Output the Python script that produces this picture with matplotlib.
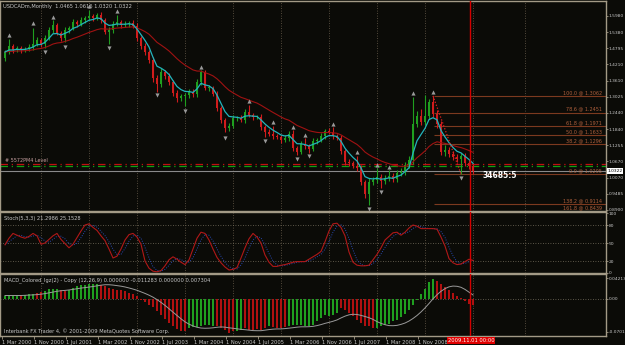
import matplotlib
matplotlib.use("Agg")
import matplotlib.pyplot as plt
import matplotlib.transforms as mtransforms
import numpy as np
import pandas as pd

# USDCADm, Monthly
first_open = 1.4443
closes = [1.4662, 1.4881, 1.4735, 1.4808, 1.4735, 1.4772, 1.4845, 1.4954, 1.5100, 1.4954,
          1.5173, 1.5465, 1.5648, 1.5356, 1.5173, 1.5465, 1.5538, 1.5757, 1.5684, 1.5830,
          1.5903, 1.5976, 1.5903, 1.6013, 1.5830, 1.5392, 1.5465, 1.5684, 1.5757, 1.5648,
          1.5684, 1.5721, 1.5611, 1.5173, 1.4881, 1.4662, 1.4370, 1.3713, 1.3494, 1.3932,
          1.3786, 1.3567, 1.3166, 1.2983, 1.3056, 1.3093, 1.3202, 1.3129, 1.3567, 1.3932,
          1.3348, 1.3348, 1.3129, 1.2618, 1.2180, 1.1888, 1.1961, 1.2253, 1.2253, 1.2180,
          1.2472, 1.2363, 1.2290, 1.2290, 1.1925, 1.1742, 1.1669, 1.1596, 1.1560, 1.1450,
          1.1523, 1.1669, 1.1158, 1.1012, 1.1304, 1.1231, 1.1122, 1.1414, 1.1450, 1.1596,
          1.1779, 1.1742, 1.1596, 1.1523, 1.1049, 1.0647, 1.0611, 1.0501, 1.0428, 0.9917,
          0.9479, 0.9917, 0.9990, 1.0100, 0.9953, 1.0063, 1.0136, 1.0026, 1.0245, 1.0282,
          1.0538, 1.0720, 1.2034, 1.2326, 1.2107, 1.2326, 1.2837, 1.2399, 1.2034, 1.1012,
          1.1085, 1.0939, 1.0830, 1.0757, 1.0866, 1.0611, 1.0501, 1.0322]
up_wick = [0.008, 0.027, 0.008, 0.008, 0.006, 0.008, 0.010, 0.060, 0.012, 0.008,
           0.010, 0.010, 0.018, 0.008, 0.006, 0.010, 0.008, 0.012, 0.008, 0.010,
           0.008, 0.022, 0.008, 0.008, 0.010, 0.008, 0.010, 0.012, 0.025, 0.008,
           0.010, 0.008, 0.010, 0.012, 0.008, 0.010, 0.008, 0.012, 0.010, 0.015,
           0.008, 0.010, 0.008, 0.010, 0.008, 0.008, 0.010, 0.012, 0.010, 0.008,
           0.008, 0.010, 0.008, 0.010, 0.008, 0.008, 0.010, 0.012, 0.008, 0.010,
           0.012, 0.026, 0.008, 0.008, 0.010, 0.008, 0.010, 0.029, 0.008, 0.008,
           0.010, 0.012, 0.015, 0.008, 0.010, 0.022, 0.008, 0.010, 0.008, 0.010,
           0.008, 0.010, 0.018, 0.008, 0.010, 0.008, 0.010, 0.008, 0.035, 0.010,
           0.008, 0.015, 0.012, 0.033, 0.010, 0.012, 0.022, 0.010, 0.012, 0.015,
           0.012, 0.015, 0.100, 0.020, 0.025, 0.076, 0.012, 0.0225, 0.015, 0.012,
           0.020, 0.012, 0.010, 0.010, 0.012, 0.010, 0.010, 0.008]
dn_wick = [0.010, 0.008, 0.010, 0.008, 0.010, 0.008, 0.008, 0.010, 0.008, 0.010,
           0.015, 0.008, 0.010, 0.008, 0.012, 0.015, 0.010, 0.008, 0.010, 0.008,
           0.010, 0.008, 0.010, 0.008, 0.010, 0.008, 0.044, 0.010, 0.008, 0.010,
           0.008, 0.010, 0.008, 0.010, 0.012, 0.010, 0.012, 0.015, 0.030, 0.012,
           0.010, 0.012, 0.010, 0.015, 0.010, 0.035, 0.012, 0.010, 0.012, 0.010,
           0.008, 0.010, 0.008, 0.010, 0.012, 0.015, 0.010, 0.008, 0.010, 0.008,
           0.010, 0.008, 0.010, 0.008, 0.010, 0.018, 0.008, 0.010, 0.008, 0.010,
           0.008, 0.010, 0.010, 0.011, 0.008, 0.010, 0.015, 0.008, 0.010, 0.008,
           0.010, 0.008, 0.010, 0.008, 0.010, 0.012, 0.010, 0.008, 0.010, 0.012,
           0.015, 0.040, 0.012, 0.010, 0.026, 0.010, 0.012, 0.010, 0.012, 0.010,
           0.012, 0.010, 0.015, 0.010, 0.012, 0.010, 0.012, 0.010, 0.015, 0.012,
           0.015, 0.010, 0.010, 0.010, 0.055, 0.010, 0.012, 0.010]

frac_up_bars = [1, 7, 12, 21, 28, 49, 61, 67, 72, 75, 82, 88, 93, 96, 102, 107]
frac_up_price = [1.528, 1.572, 1.594, 1.634, 1.616, 1.411, 1.287, 1.211, 1.192, 1.163,
                 1.203, 1.101, 1.054, 1.046, 1.317, 1.320]
frac_dn_bars = [10, 15, 26, 38, 45, 55, 65, 73, 76, 91, 94, 114]
frac_dn_price = [1.466, 1.484, 1.481, 1.309, 1.251, 1.152, 1.141, 1.076, 1.087, 0.893,
                 0.955, 1.006]

fib_levels = [1.3062, 1.2451, 1.1971, 1.1633, 1.1296, 1.0205, 0.9114, 0.8439]
fib_names = ["100.0", "78.6", "61.8", "50.0", "38.2", "0.0", "138.2", "161.8"]
swing_bars = [107, 114]
swing_price = [1.3062, 1.0205]

level_red = 1.0574
level_green = 1.0500
bid = 1.0322
price_ticks = [1.5980, 1.5380, 1.4795, 1.4210, 1.3610, 1.3025, 1.2440, 1.1840,
               1.1255, 1.0670, 1.0070, 0.9485, 0.8900]

stoch_main = [47, 58, 66, 63, 60, 58, 61, 66, 62, 48, 50, 56, 62, 66, 56, 49, 42, 48, 59, 70,
              80, 82, 76, 71, 62, 54, 40, 25, 28, 40, 55, 64, 66, 60, 48, 20, 8, 3, 2, 4,
              12, 22, 27, 23, 18, 14, 22, 40, 58, 68, 66, 55, 40, 26, 17, 10, 5, 6, 9, 25,
              42, 57, 66, 60, 50, 30, 18, 11, 11, 13, 14, 16, 18, 19, 19, 19, 23, 27, 31, 36,
              52, 70, 82, 83, 76, 62, 35, 18, 13, 12, 12, 13, 22, 31, 42, 55, 61, 67, 68, 63,
              68, 75, 80, 78, 74, 74, 74, 74, 73, 60, 45, 24, 17, 14, 15, 19, 23, 21]

macd_hist = [0.0063, 0.0063, 0.0063, 0.0063, 0.0063, 0.0084, 0.0105, 0.0105, 0.0126, 0.0147,
             0.0168, 0.0210, 0.0210, 0.0210, 0.0189, 0.0168, 0.0189, 0.0231, 0.0273, 0.0294,
             0.0294, 0.0315, 0.0315, 0.0315, 0.0294, 0.0273, 0.0231, 0.0210, 0.0189, 0.0189,
             0.0168, 0.0126, 0.0105, 0.0063, -0.0021, -0.0063, -0.0126, -0.0189, -0.0273, -0.0357,
             -0.0441, -0.0525, -0.0588, -0.0651, -0.0693, -0.0693, -0.0630, -0.0609, -0.0609, -0.0588,
             -0.0567, -0.0567, -0.0588, -0.0588, -0.0630, -0.0672, -0.0735, -0.0693, -0.0693, -0.0672,
             -0.0630, -0.0672, -0.0672, -0.0651, -0.0672, -0.0630, -0.0588, -0.0609, -0.0630, -0.0630,
             -0.0609, -0.0588, -0.0567, -0.0567, -0.0567, -0.0588, -0.0588, -0.0567, -0.0483, -0.0420,
             -0.0357, -0.0378, -0.0357, -0.0315, -0.0210, -0.0252, -0.0315, -0.0378, -0.0462, -0.0525,
             -0.0588, -0.0588, -0.0630, -0.0630, -0.0588, -0.0567, -0.0546, -0.0483, -0.0462, -0.0399,
             -0.0336, -0.0252, -0.0147, -0.0021, 0.0105, 0.0210, 0.0357, 0.0420, 0.0378, 0.0315,
             0.0252, 0.0189, 0.0126, 0.0063, 0.0021, -0.0042, -0.0105, -0.0147]
hist_runs = [("g", 4), ("r", 1), ("g", 3), ("r", 2), ("g", 4), ("r", 2), ("g", 8), ("r", 22),
             ("g", 7), ("r", 5), ("g", 2), ("r", 6), ("g", 1), ("r", 4), ("g", 13), ("r", 9),
             ("g", 15), ("r", 10)]

date_labels = ["1 Mar 2000", "1 Nov 2000", "1 Jul 2001", "1 Mar 2002", "1 Nov 2002",
               "1 Jul 2003", "1 Mar 2004", "1 Nov 2004", "1 Jul 2005", "1 Mar 2006",
               "1 Nov 2006", "1 Jul 2007", "1 Mar 2008", "1 Nov 2008"]
grid_bars = [9, 21, 33, 45, 57, 69, 81, 93, 105, 117, 130]
cursor_bar = 116.3

# colours
BG = "#0b0b07"
TXT = "#c8c8c8"
FRAME = "#a39a86"
GRID = "#6b604d"
BULL = "#1f9f1f"
BEAR = "#d01c1c"
FIB = "#7c3a1f"
FS = 3.7
FS_R = 3.2   # right price scale

W, H = 625, 345
fig = plt.figure(figsize=(W / 100, H / 100), dpi=100, facecolor=BG)


def px_axes(x0, y0, x1, y1):
    a = fig.add_axes([x0 / W, 1 - y1 / H, (x1 - x0) / W, (y1 - y0) / H])
    a.set_facecolor(BG)
    for s in a.spines.values():
        s.set_color(FRAME)
        s.set_linewidth(1.0)
    a.set_xlim(-1.25, 150.25)
    a.yaxis.tick_right()
    a.tick_params(axis="y", colors=TXT, labelsize=FS_R, length=1.5, pad=0.6, width=0.6)
    a.tick_params(axis="y", color=FRAME)
    for g in grid_bars:
        a.axvline(g, color=GRID, lw=0.6, ls=(0, (1, 2)), zorder=0)
    a.axvline(cursor_bar, color="#d40000", lw=1.0, zorder=6)
    return a


ax1 = px_axes(0, 1, 606, 211)
ax2 = px_axes(0, 212, 606, 273)
ax3 = px_axes(0, 274, 606, 336)

# ---------------- main price panel ----------------
n = len(closes)
x = np.arange(n)
o = np.array([first_open] + closes[:-1])
c = np.array(closes)
hi = np.maximum(o, c) + np.array(up_wick)
lo = np.minimum(o, c) - np.array(dn_wick)
cols = np.where(c >= o, BULL, BEAR)

ax1.vlines(x, lo, hi, colors=cols, lw=0.8, zorder=3)
ax1.bar(x, np.maximum(np.abs(c - o), 0.002), bottom=np.minimum(o, c), width=0.68,
        color=cols, linewidth=0, zorder=3)

s = pd.Series(closes)
ax1.plot(x, s.ewm(span=21, adjust=False).mean(), color="#a01212", lw=0.8, zorder=4)
ax1.plot(x, s.ewm(span=5, adjust=False).mean(), color="#22b4bc", lw=0.9, zorder=4)

ax1.scatter(frac_up_bars, frac_up_price, marker="^", s=9, color="#9a9a9a", zorder=5, linewidths=0)
ax1.scatter(frac_dn_bars, frac_dn_price, marker="v", s=9, color="#9a9a9a", zorder=5, linewidths=0)

ax1.plot(swing_bars, swing_price, color="#e02020", lw=0.9, ls=(0, (1, 1.5)), zorder=5)

for lv, name in zip(fib_levels, fib_names):
    ax1.hlines(lv, swing_bars[0] + 0.25, 150.25, color=FIB, lw=0.8, zorder=2)
    ty = max(lv + 0.003, 0.8875)
    ax1.text(149.3, ty, f"{name} @ {lv:.4f}", color="#b0603c", fontsize=3.5,
             ha="right", va="bottom", zorder=6, clip_on=True)

ax1.axhline(level_red, color="#c01010", lw=0.9, ls=(0, (6, 3, 1, 3)), zorder=2)
ax1.axhline(level_green, color="#12a012", lw=0.9, ls=(0, (6, 3, 1, 3)), zorder=2)
ax1.text(0, level_red + 0.003, "# 5572PM4 Level", color="#c8a0a0", fontsize=3.5,
         ha="left", va="bottom", zorder=6)
ax1.axhline(bid, color="#8a8a8a", lw=0.8, zorder=2)

ax1.set_ylim(0.8859, 1.6523)
ax1.set_yticks(price_ticks)
ax1.set_yticklabels([f"{v:.4f}" for v in price_ticks])
ax1.set_xticks([])
ax1.text(1.002, bid, f"{bid:.4f}", transform=mtransforms.blended_transform_factory(ax1.transAxes, ax1.transData),
         color="black", fontsize=FS_R, ha="left", va="center",
         bbox=dict(facecolor="white", edgecolor="none", pad=0.5), zorder=7, clip_on=False)
ax1.text(0.005, 0.985, "USDCADm,Monthly  1.0465 1.0616 1.0320 1.0322", transform=ax1.transAxes,
         color=TXT, fontsize=FS, ha="left", va="top")
ax1.text(119.5, 1.017, "34685:5", color="white", fontsize=5.5, fontweight="bold",
         ha="left", va="center", zorder=7)

# ---------------- stochastic panel ----------------
st = pd.Series(stoch_main)
for lv in (20, 50, 80):
    ax2.axhline(lv, color="#77705f", lw=0.6, ls=(0, (1, 2)), zorder=1)
ax2.plot(x, st.rolling(3, min_periods=1).mean(), color="#2848b0", lw=0.7, ls=(0, (1, 1.5)), zorder=3)
ax2.plot(x, st, color="#b01818", lw=0.8, zorder=4)
ax2.set_ylim(0, 101.7)
ax2.set_yticks([0, 20, 50, 80, 100])
ax2.set_yticklabels(["0", "20", "50", "80", "100"])
ax2.set_xticks([])
ax2.text(0.006, 0.93, "Stoch(5,3,3) 21.2986 25.1528", transform=ax2.transAxes,
         color=TXT, fontsize=FS, ha="left", va="top")

# ---------------- MACD panel ----------------
hist_cols = []
for col, cnt in hist_runs:
    hist_cols += [BULL if col == "g" else "#b01010"] * cnt
mh = pd.Series(macd_hist)
ax3.axhline(0, color="#77705f", lw=0.6, ls=(0, (1, 2)), zorder=1)
ax3.bar(x, macd_hist, width=0.42, color=hist_cols, linewidth=0, zorder=3)
ax3.plot(x, mh.rolling(9, min_periods=1).mean(), color="#9a9a9a", lw=0.7, zorder=4)
ax3.set_ylim(-0.0788, 0.0515)
ax3.set_yticks([0.042135, 0.0, -0.070146])
ax3.set_yticklabels(["0.042135", "0.00", "-0.070146"])
ax3.text(0.006, 0.95, "MACD_Colored_lgz(2) - Copy (12,26,9) 0.000000 -0.011283 0.000000 0.007304",
         transform=ax3.transAxes, color=TXT, fontsize=FS, ha="left", va="top")
ax3.text(0.006, 0.03, "Interbank FX Trader 4, \u00a9 2001-2009 MetaQuotes Software Corp.",
         transform=ax3.transAxes, color=TXT, fontsize=FS, ha="left", va="bottom")

ax3.set_xticks([8 * k - 0.75 for k in range(len(date_labels))])
ax3.set_xticklabels(date_labels)
ax3.tick_params(axis="x", colors=TXT, labelsize=FS, length=2, pad=1, width=0.6)
ax3.tick_params(axis="x", color=FRAME)
for lab in ax3.get_xticklabels():
    lab.set_ha("left")

fig.text(471 / W, 1 - 340.5 / H, "2009.11.01 00:00", color="white", fontsize=FS,
         ha="center", va="center", bbox=dict(facecolor="#e00000", edgecolor="none", pad=0.6))

fig.savefig("out.png", dpi=100, facecolor=BG)
